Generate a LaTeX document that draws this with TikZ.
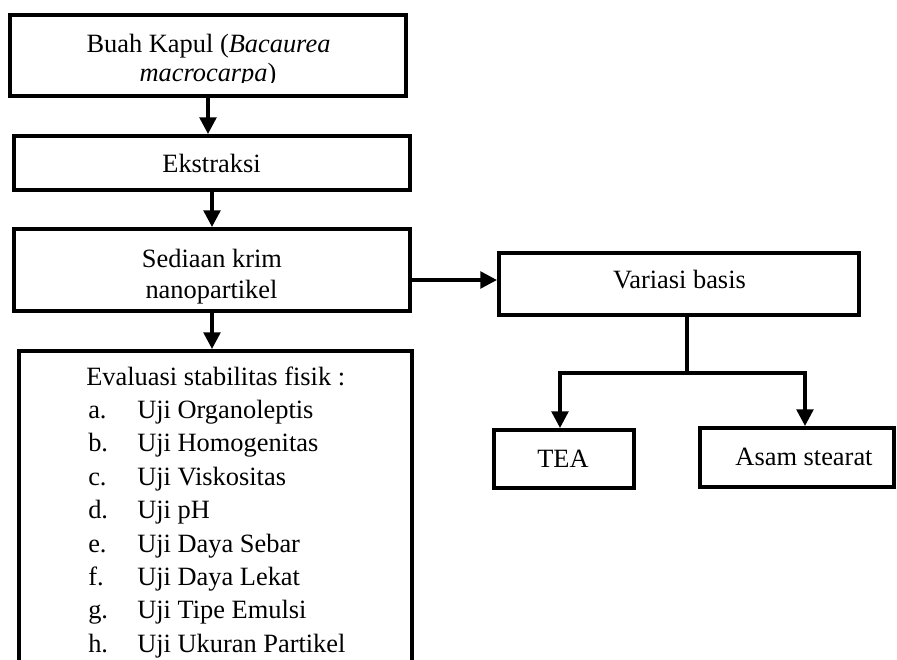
\documentclass[tikz,border=0pt]{standalone}
\usepackage{fontspec}
\setmainfont{Liberation Serif}
\usetikzlibrary{arrows.meta,fit}
\begin{document}
\begin{tikzpicture}[x=0.75pt,y=-0.75pt,
  box/.style={draw,line width=3pt,inner sep=0pt},
  txt/.style={font=\fontsize{19.8}{25}\selectfont,inner sep=0pt,anchor=base},
  arr/.style={line width=2.6pt,-{Triangle[length=12.5pt,width=12.5pt]}},
  ln/.style={line width=2.6pt}]
\useasboundingbox (0,0) rectangle (897,660);
% boxes
\node[box,fit={(10,15) (406,96)}] (b1) {};
\node[box,fit={(14,136) (410,190)}] (b2) {};
\node[box,fit={(14,229) (410,311)}] (b3) {};
\node[box,fit={(499,253) (859,315)}] (v) {};
\node[box,fit={(494,430) (634,488)}] (tea) {};
\node[box,fit={(700,428) (894,487)}] (asam) {};
\begin{scope}
  \clip (0,0) rectangle (897,660);
  \node[box,fit={(19,351) (412,700)}] (ev) {};
\end{scope}
% texts
\node[txt] (t1a) at (208.5,53) {Buah Kapul (\textit{Bacaurea}};
\begin{scope}
  \clip (10,15) rectangle (406,83);
  \node[txt] (t1b) at (208,81.5) {\textit{macrocarpa})};
\end{scope}
\node[txt] (t2) at (211.5,172) {Ekstraksi};
\node[txt] (t3a) at (212,267) {Sediaan krim};
\node[txt] (t3b) at (211.5,298) {nanopartikel};
\node[txt] (tv) at (679.5,288) {Variasi basis};
\node[txt] (ttea) at (563,467) {TEA};
\node[txt] (tasam) at (804,465) {Asam stearat};
\node[txt,anchor=base west] (h0) at (86,385) {Evaluasi stabilitas fisik :};
\foreach \l/\t [count=\i] in {a./Uji Organoleptis,b./Uji Homogenitas,c./Uji Viskositas,d./Uji pH,e./Uji Daya Sebar,f./Uji Daya Lekat,g./Uji Tipe Emulsi,h./Uji Ukuran Partikel}{
  \node[txt,anchor=base west] (l\i) at (88,{385+\i*33.4}) {\l};
  \node[txt,anchor=base west] (e\i) at (137,{385+\i*33.4}) {\t};
}
% connectors
\draw[arr] (b1.south) -- (b1.south |- b2.north);
\draw[arr] (b2.south) -- (b2.south |- b3.north);
\draw[arr] (b3.south) -- (b3.south |- ev.north);
\draw[arr] ([yshift=3pt]b3.east |- v.west) -- ([yshift=3pt]v.west);
\coordinate (j) at (687,373);
\coordinate (jl) at (560,373);
\coordinate (jr) at (805,373);
\draw[ln] (v.south -| j) -- (j);
\draw[arr] (j) -- (jl) -- (jl |- tea.north);
\draw[arr] (j) -- (jr) -- (jr |- asam.north);
\end{tikzpicture}
\end{document}
